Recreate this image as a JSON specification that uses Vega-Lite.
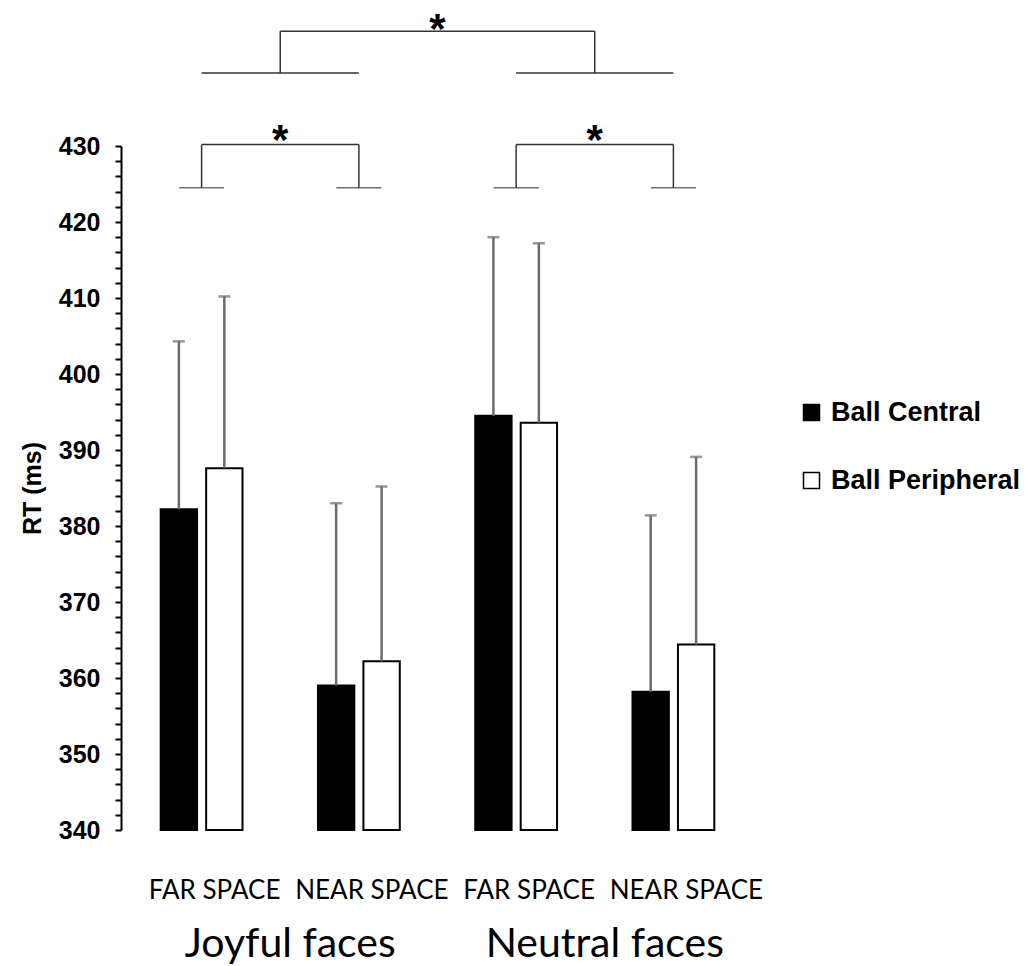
{
  "$schema": "https://vega.github.io/schema/vega-lite/v6.json",
  "width": 633,
  "height": 684,
  "padding": {"left": 20, "top": 9, "right": 5, "bottom": 0},
  "background": "white",
  "config": {
    "view": {"stroke": null},
    "font": "Liberation Sans"
  },
  "datasets": {
    "bars": [
      {"group": "Joyful|FAR SPACE", "ball": "Ball Central", "mean": 382.2, "upper": 404.3},
      {"group": "Joyful|FAR SPACE", "ball": "Ball Peripheral", "mean": 387.6, "upper": 410.2},
      {"group": "Joyful|NEAR SPACE", "ball": "Ball Central", "mean": 359.0, "upper": 383.0},
      {"group": "Joyful|NEAR SPACE", "ball": "Ball Peripheral", "mean": 362.2, "upper": 385.2},
      {"group": "Neutral|FAR SPACE", "ball": "Ball Central", "mean": 394.5, "upper": 418.0},
      {"group": "Neutral|FAR SPACE", "ball": "Ball Peripheral", "mean": 393.6, "upper": 417.2},
      {"group": "Neutral|NEAR SPACE", "ball": "Ball Central", "mean": 358.2, "upper": 381.4},
      {"group": "Neutral|NEAR SPACE", "ball": "Ball Peripheral", "mean": 364.4, "upper": 389.1}
    ],
    "centerLinks": [
      {"a": "Joyful|FAR SPACE", "b": "Joyful|NEAR SPACE", "y1": 439.6, "y2": 439.6},
      {"a": "Neutral|FAR SPACE", "b": "Neutral|NEAR SPACE", "y1": 439.6, "y2": 439.6},
      {"a": "Joyful|FAR SPACE", "b": "Joyful|NEAR SPACE", "y1": 430.2, "y2": 430.2},
      {"a": "Neutral|FAR SPACE", "b": "Neutral|NEAR SPACE", "y1": 430.2, "y2": 430.2},
      {"a": "Joyful|FAR SPACE", "b": "Joyful|FAR SPACE", "y1": 424.5, "y2": 430.2},
      {"a": "Joyful|NEAR SPACE", "b": "Joyful|NEAR SPACE", "y1": 424.5, "y2": 430.2},
      {"a": "Neutral|FAR SPACE", "b": "Neutral|FAR SPACE", "y1": 424.5, "y2": 430.2},
      {"a": "Neutral|NEAR SPACE", "b": "Neutral|NEAR SPACE", "y1": 424.5, "y2": 430.2}
    ],
    "edgeLinks": [
      {"a": "Joyful|FAR SPACE", "b": "Joyful|FAR SPACE", "y1": 439.6, "y2": 445.1},
      {"a": "Neutral|FAR SPACE", "b": "Neutral|FAR SPACE", "y1": 439.6, "y2": 445.1},
      {"a": "Joyful|FAR SPACE", "b": "Neutral|FAR SPACE", "y1": 445.1, "y2": 445.1}
    ],
    "feet": [
      {"group": "Joyful|FAR SPACE", "y": 424.5},
      {"group": "Joyful|NEAR SPACE", "y": 424.5},
      {"group": "Neutral|FAR SPACE", "y": 424.5},
      {"group": "Neutral|NEAR SPACE", "y": 424.5}
    ],
    "stars": [
      {"group": "Joyful|FAR SPACE", "y": 430.6, "text": "*"},
      {"group": "Neutral|FAR SPACE", "y": 430.6, "text": "*"},
      {"group": "Joyful|NEAR SPACE", "y": 445.2, "text": "*"}
    ],
    "faces": [
      {"group": "Joyful|FAR SPACE", "y": 323.3, "text": "Joyful faces"},
      {"group": "Neutral|FAR SPACE", "y": 323.3, "text": "Neutral faces"}
    ]
  },
  "encoding": {
    "x": {
      "field": "group",
      "type": "nominal",
      "scale": {
        "domain": ["Joyful|FAR SPACE", "Joyful|NEAR SPACE", "Neutral|FAR SPACE", "Neutral|NEAR SPACE"],
        "paddingInner": 0,
        "paddingOuter": 0.0125
      },
      "axis": {
        "title": null,
        "domain": false,
        "ticks": false,
        "labelAngle": 0,
        "labelFont": "Lato",
        "labelFontSize": 26,
        "labelColor": "black",
        "labelPadding": 47,
        "labelOffset": 13,
        "labelExpr": "split(datum.value, '|')[1]"
      }
    }
  },
  "layer": [
    {
      "data": {"name": "bars"},
      "mark": {"type": "bar", "stroke": "black", "strokeWidth": 2},
      "encoding": {
        "xOffset": {"field": "ball", "type": "nominal", "scale": {"paddingInner": 0.2, "paddingOuter": 0.83}},
        "y": {
          "field": "mean",
          "type": "quantitative",
          "scale": {"domain": [340, 430], "zero": false, "nice": false},
          "axis": {
            "title": "RT (ms)",
            "titleFont": "Liberation Sans",
            "titleFontSize": 25,
            "titleFontWeight": "bold",
            "titleColor": "black",
            "titlePadding": 13,
            "values": [340, 342, 344, 346, 348, 350, 352, 354, 356, 358, 360, 362, 364, 366, 368, 370, 372, 374, 376, 378, 380, 382, 384, 386, 388, 390, 392, 394, 396, 398, 400, 402, 404, 406, 408, 410, 412, 414, 416, 418, 420, 422, 424, 426, 428, 430],
            "tickCount": 100,
            "labelExpr": "datum.value % 10 === 0 ? datum.label : ''",
            "labelOverlap": false,
            "labelFont": "Liberation Sans",
            "labelFontSize": 25,
            "labelFontWeight": "bold",
            "labelColor": "black",
            "labelPadding": 15,
            "tickSize": 6,
            "tickWidth": 2,
            "tickColor": "black",
            "domainColor": "black",
            "domainWidth": 2,
            "grid": false
          }
        },
        "y2": {"datum": 340},
        "fill": {
          "field": "ball",
          "type": "nominal",
          "scale": {"domain": ["Ball Central", "Ball Peripheral"], "range": ["black", "white"]},
          "legend": {
            "title": null,
            "orient": "none",
            "legendX": 677,
            "legendY": 253,
            "symbolType": "square",
            "symbolSize": 256,
            "symbolStrokeColor": "black",
            "symbolStrokeWidth": 1.5,
            "labelFont": "Liberation Sans",
            "labelFontSize": 27,
            "labelFontWeight": "bold",
            "labelColor": "black",
            "labelLimit": 400,
            "labelOffset": 6,
            "rowPadding": 40
          }
        }
      }
    },
    {
      "data": {"name": "bars"},
      "mark": {"type": "rule", "color": "#6b6b6b", "strokeWidth": 2.5},
      "encoding": {
        "xOffset": {"field": "ball", "type": "nominal"},
        "y": {"field": "mean", "type": "quantitative"},
        "y2": {"field": "upper"}
      }
    },
    {
      "data": {"name": "bars"},
      "mark": {"type": "tick", "color": "#6b6b6b", "thickness": 2.5, "size": 12},
      "encoding": {
        "xOffset": {"field": "ball", "type": "nominal"},
        "y": {"field": "upper", "type": "quantitative"}
      }
    },
    {
      "data": {"name": "centerLinks"},
      "mark": {"type": "rule", "color": "#333333", "strokeWidth": 1.5},
      "encoding": {
        "x": {"field": "a", "type": "nominal", "bandPosition": 0.5},
        "x2": {"field": "b", "bandPosition": 0.5},
        "y": {"field": "y1", "type": "quantitative"},
        "y2": {"field": "y2"}
      }
    },
    {
      "data": {"name": "edgeLinks"},
      "mark": {"type": "rule", "color": "#333333", "strokeWidth": 1.5},
      "encoding": {
        "x": {"field": "a", "type": "nominal", "bandPosition": 1},
        "x2": {"field": "b", "bandPosition": 1},
        "y": {"field": "y1", "type": "quantitative"},
        "y2": {"field": "y2"}
      }
    },
    {
      "data": {"name": "feet"},
      "mark": {"type": "tick", "color": "#333333", "thickness": 1.5, "size": 45},
      "encoding": {
        "y": {"field": "y", "type": "quantitative"}
      }
    },
    {
      "data": {"name": "stars"},
      "mark": {"type": "text", "font": "Liberation Sans", "fontSize": 42, "fontWeight": "bold", "color": "black", "baseline": "middle", "align": "center"},
      "encoding": {
        "x": {"field": "group", "type": "nominal", "bandPosition": 1},
        "y": {"field": "y", "type": "quantitative"},
        "text": {"field": "text"}
      }
    },
    {
      "data": {"name": "faces"},
      "mark": {"type": "text", "font": "Lato", "fontSize": 41, "color": "black", "baseline": "alphabetic", "align": "center", "dx": 10},
      "encoding": {
        "x": {"field": "group", "type": "nominal", "bandPosition": 1},
        "y": {"field": "y", "type": "quantitative"},
        "text": {"field": "text"}
      }
    }
  ]
}
